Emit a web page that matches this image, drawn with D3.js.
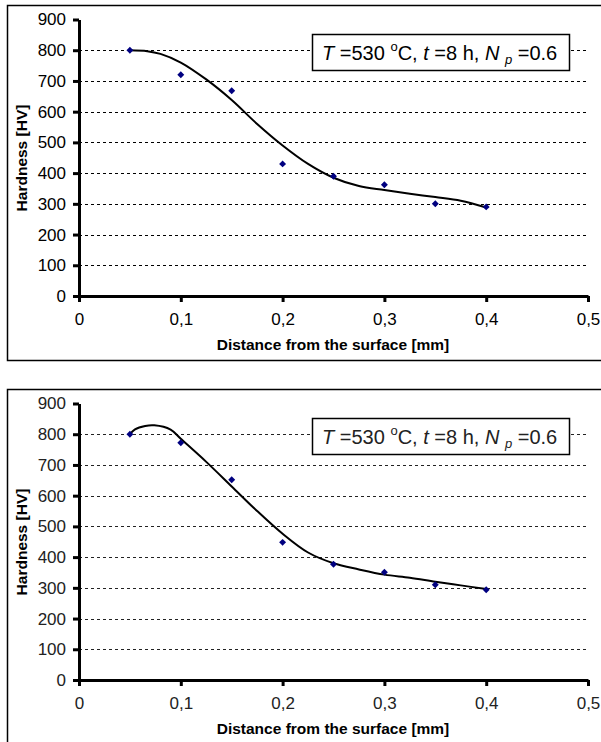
<!DOCTYPE html>
<html>
<head lang="en">
    <meta charset="UTF-8">
    <title>Hardness profiles</title>
    <script src="https://cdn.jsdelivr.net/npm/d3@7/dist/d3.min.js"></script>
    <style>
        body{ margin:0; background:#fff; }
        svg{ display:block; font-family:Arial,"Liberation Sans",sans-serif; }
        .grid{ stroke:#000; stroke-width:1px; stroke-dasharray:3,3; }
        .axis path, .axis line{ stroke:#000; stroke-width:3px; }
        .axis text{ font-size:17px; fill:#000; }
        .title{ font-size:15.5px; font-weight:bold; }
        .fit{ fill:none; stroke:#000; stroke-width:2px; }
        .pt{ fill:#000080; }
    </style>
</head>
<body>
    <div id="tu"></div>
</body>
</html>
<script>
    // tick labels
    var xTicks=[0,0.1,0.2,0.3,0.4,0.5];
    var yTicks=[0,100,200,300,400,500,600,700,800,900];
    var gridValues=[100,200,300,400,500,600,700,800];

    // measured points (same x for both panels)
    var distance=[0.05,0.1,0.15,0.2,0.25,0.3,0.35,0.4];
    var hardnessA=[800,720,668,430,390,362,300,290];
    var hardnessB=[800,772,652,448,377,351,310,294];

    // fitted trend lines
    var fitXA=[0.05,0.067,0.08,0.1,0.125,0.15,0.175,0.2,0.225,0.25,0.275,0.3,0.325,0.35,0.375,0.4];
    var fitYA=[800,797,788,760,705,638,560,490,430,385,358,345,333,322,310,288];
    var fitXB=[0.05,0.055,0.065,0.074,0.09,0.1,0.125,0.15,0.175,0.2,0.225,0.25,0.275,0.3,0.325,0.35,0.375,0.4];
    var fitYB=[800,816,827,829,815,785,710,630,550,476,415,380,360,343,333,320,308,296];

    var legendParts=[
        {t:'T',style:'italic'},
        {t:' =530 '},
        {t:'o',sup:true},
        {t:'C, '},
        {t:'t',style:'italic'},
        {t:' =8 h, '},
        {t:'N',style:'italic'},
        {t:' '},
        {t:'p',style:'italic',sub:true},
        {t:' =0.6'}
    ];

    var panels=[
        {top:0,  x:distance,y:hardnessA,fx:fitXA,fy:fitYA,ink:'#000'},
        {top:384,x:distance,y:hardnessB,fx:fitXB,fy:fitYB,ink:'#222'}
    ];

    var svg=d3.select('#tu').append('svg')
            .attr('width',601)
            .attr('height',742);

    var x=d3.scaleLinear().domain([0,0.5]).range([79,588]);
    var y=d3.scaleLinear().domain([0,900]).range([296,19.5]);
    var fmt=function(d){ return String(+d.toFixed(1)).replace('.',','); };

    function drawPanel(p){
        var g=svg.append('g').attr('transform','translate(0,'+p.top+')');

        g.append('rect')
                .attr('x',7.5).attr('y',5.5)
                .attr('width',600).attr('height',355)
                .attr('fill','#fff').attr('stroke','#000').attr('stroke-width',1.5);

        g.selectAll('.grid')
                .data(gridValues)
                .enter()
                .append('line')
                .attr('class','grid')
                .attr('x1',x(0)).attr('x2',x(0.5))
                .attr('y1',function(d){ return Math.round(y(d))+0.5; })
                .attr('y2',function(d){ return Math.round(y(d))+0.5; })
                .style('stroke',p.ink);

        g.append('g').attr('class','axis')
                .attr('transform','translate(0,'+y(0)+')')
                .call(d3.axisBottom(x).tickValues(xTicks).tickFormat(fmt)
                        .tickSize(6).tickSizeOuter(0).tickPadding(11));
        g.append('g').attr('class','axis')
                .attr('transform','translate('+x(0)+',0)')
                .call(d3.axisLeft(y).tickValues(yTicks)
                        .tickSize(6).tickSizeOuter(0).tickPadding(7));
        g.selectAll('.axis text').style('fill',p.ink);

        g.append('text')
                .attr('class','title')
                .attr('x',333).attr('y',350)
                .attr('text-anchor','middle')
                .text('Distance from the surface [mm]');
        g.append('text')
                .attr('class','title')
                .attr('transform','translate(27,158) rotate(-90)')
                .attr('text-anchor','middle')
                .text('Hardness [HV]');

        var fitData=p.fx.map(function(d,i){ return [d,p.fy[i]]; });
        var line=d3.line()
                .x(function(d){ return x(d[0]); })
                .y(function(d){ return y(d[1]); })
                .curve(d3.curveCatmullRom.alpha(0.5));
        g.append('path')
                .attr('class','fit')
                .attr('d',line(fitData));

        g.selectAll('.pt')
                .data(p.x)
                .enter()
                .append('path')
                .attr('class','pt')
                .attr('d',d3.symbol().type(d3.symbolSquare).size(24))
                .attr('transform',function(d,i){
                    return 'translate('+x(d)+','+y(p.y[i])+') rotate(45)';
                });

        // annotation box
        g.append('rect')
                .attr('x',312.5).attr('y',34.5)
                .attr('width',257).attr('height',36)
                .attr('fill','#fff').attr('stroke','#000').attr('stroke-width',1.5);
        var lt=g.append('text')
                .attr('x',322).attr('y',60)
                .style('font-size','20px')
                .style('fill',p.ink);
        legendParts.forEach(function(d){
            var ts=lt.append('tspan').text(d.t);
            if(d.style) ts.style('font-style',d.style);
            if(d.sup) ts.style('font-size','13px').attr('baseline-shift','9px');
            if(d.sub) ts.style('font-size','13px').attr('baseline-shift','-4px');
        });
    }

    panels.forEach(drawPanel);
</script>
